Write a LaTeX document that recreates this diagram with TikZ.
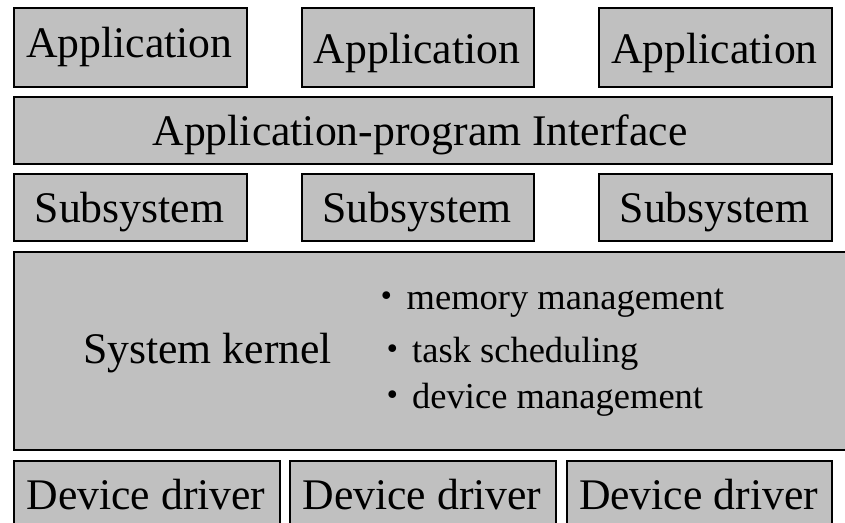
\documentclass[tikz,border=0pt]{standalone}
\usepackage{fontspec}
\setmainfont{Liberation Serif}
\newfontfamily\cjkfont{Noto Sans CJK JP}
\definecolor{boxgray}{RGB}{192,192,192}
\begin{document}
\begin{tikzpicture}[x=1pt,y=-1pt,
  layer/.style={draw=black, fill=boxgray, line width=1.8pt,
    inner sep=0pt, anchor=north west},
  big/.style={font=\fontsize{43.7}{50}\selectfont, inner sep=0pt, anchor=base},
  item/.style={font=\fontsize{36.5}{42}\selectfont, inner sep=0pt, anchor=base west}]
\useasboundingbox (0,0) rectangle (845,522);
\clip (0,0) rectangle (845,522);
\fill[white] (0,0) rectangle (845,522);

% applications
\node[layer, minimum width=233pt, minimum height=79pt] (app1) at (13,7) {};
\node[layer, minimum width=232pt, minimum height=79pt] (app2) at (301,7) {};
\node[layer, minimum width=233pt, minimum height=79pt] (app3) at (598,7) {};
\node[big] (app1t) at (129.5,57) {Application};
\node[big] (app2t) at (417,63) {Application};
\node[big] (app3t) at (714.5,63) {Application};

% application-program interface
\node[layer, minimum width=818pt, minimum height=67pt] (api) at (13,96) {};
\node[big] (apit) at (420,145) {Application-program Interface};

% subsystems
\node[layer, minimum width=233pt, minimum height=67pt] (sub1) at (13,173) {};
\node[layer, minimum width=232pt, minimum height=67pt] (sub2) at (301,173) {};
\node[layer, minimum width=233pt, minimum height=67pt] (sub3) at (598,173) {};
\node[big] (sub1t) at (129.5,222.5) {Subsystem};
\node[big] (sub2t) at (417,222.5) {Subsystem};
\node[big] (sub3t) at (714.5,222.5) {Subsystem};

% kernel and its duties
\node[layer, minimum width=840pt, minimum height=198pt] (kern) at (13,251) {};
\node[big, anchor=base west] (kernt) at (83,363) {System kernel};
\node[item] (mem) at (368.5,309) {{\cjkfont ・}\hspace{1.5pt}memory management};
\node[item] (task) at (374,362) {{\cjkfont ・}\hspace{1.5pt}task scheduling};
\node[item] (dev) at (374,408) {{\cjkfont ・}\hspace{1.5pt}device management};

% device drivers
\node[layer, minimum width=266pt, minimum height=80pt] (drv1) at (13,460) {};
\node[layer, minimum width=266pt, minimum height=80pt] (drv2) at (289,460) {};
\node[layer, minimum width=265pt, minimum height=80pt] (drv3) at (566,460) {};
\node[big] (drv1t) at (146,509) {Device driver};
\node[big] (drv2t) at (422,509) {Device driver};
\node[big] (drv3t) at (698.5,509) {Device driver};
\end{tikzpicture}
\end{document}
